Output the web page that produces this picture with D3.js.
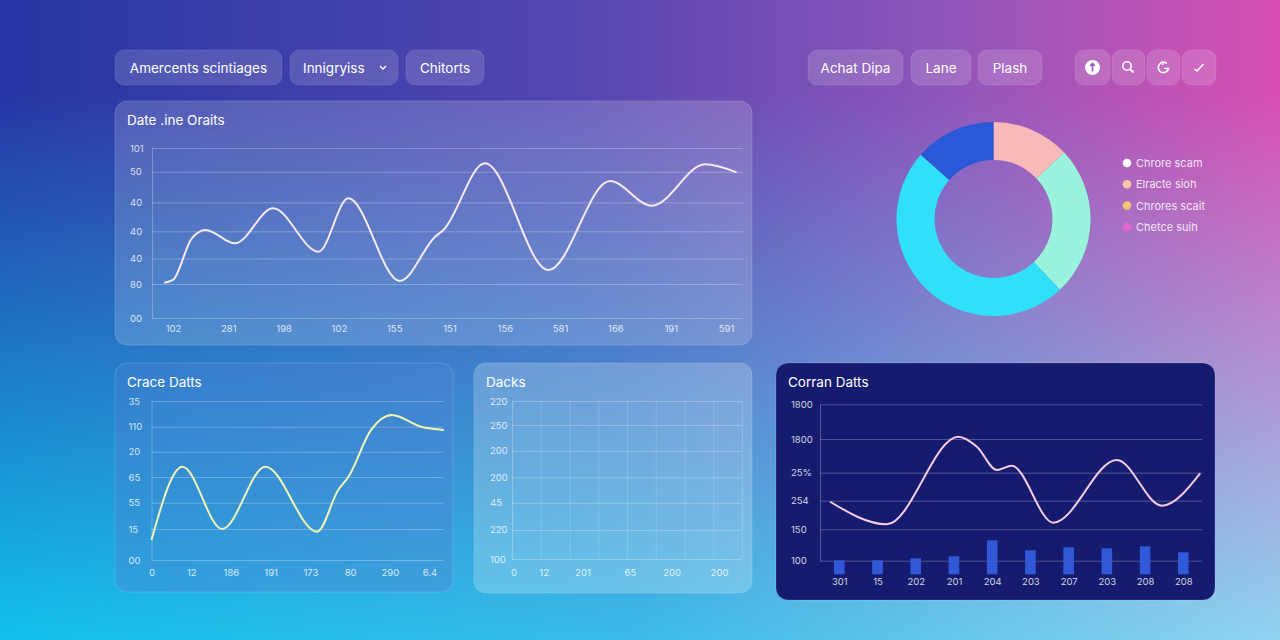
<!DOCTYPE html>
<html>
<head>
<meta charset="utf-8">
<script src="https://cdn.jsdelivr.net/npm/d3@7"></script>
<style>
html, body { margin: 0; padding: 0; overflow: hidden; }
svg { display: block; font-family: "Inter", "Noto Sans", sans-serif; }
</style>
</head>
<body>
<svg id="chart" width="1280" height="640"></svg>
<script>
// ---- data ----
var leftTabs = ["Amercents scintiages", "Innigryiss", "Chitorts"];
var rightTabs = ["Achat Dipa", "Lane", "Plash"];

var mainTitle = "Date .ine Oraits";
var mainXLabels = ["102", "281", "198", "102", "155", "151", "156", "581", "166", "191", "591"];
var mainYTicks = [0, 20, 35, 51, 68, 86, 100];
var mainYLabels = ["00", "80", "40", "40", "40", "50", "101"];
var mainX = [-0.16, 0, 0.34, 0.59, 1.12, 1.81, 2.63, 3.17, 4.1, 4.74, 4.89, 5.64, 6.79, 7.9, 8.66, 9.62, 10.19];
var mainY = [20.8, 22.4, 46.9, 51.8, 43.9, 64.5, 39, 70.4, 21.8, 47.8, 51.8, 91, 28.2, 80.6, 66, 90.4, 85.7];

var donutValues = [13, 25, 48.5, 13.5];
var legendLabels = ["Chrore scam", "Elracte sioh", "Chrores scait", "Chetce suih"];

var craceTitle = "Crace Datts";
var craceXLabels = ["0", "12", "186", "191", "173", "80", "290", "6.4"];
var craceYTicks = [0, 19.5, 36, 52.2, 68.1, 83.8, 100];
var craceYLabels = ["00", "15", "55", "65", "20", "110", "35"];
var craceX = [0, 0.78, 1.78, 2.87, 4.17, 4.7, 4.96, 5.53, 6.05, 6.79, 7.36];
var craceY = [12.6, 58.7, 19.5, 58.7, 17.8, 44, 52.4, 81.8, 91.2, 83.8, 81.8];

var dacksTitle = "Dacks";
var dacksXTicks = [0.05, 1.1, 2.45, 4.1, 5.55, 7.2];
var dacksXLabels = ["0", "12", "201", "65", "200", "200"];
var dacksYTicks = [0, 18.4, 35.6, 51.7, 68.5, 84.8, 100];
var dacksYLabels = ["100", "220", "45", "200", "200", "250", "220"];

var corranTitle = "Corran Datts";
var corranXLabels = ["301", "15", "202", "201", "204", "203", "207", "203", "208", "208"];
var corranBars = [14, 14, 16, 18, 34, 24, 27, 26, 28, 22];
var corranYTicks = [0, 20.1, 38.4, 56.3, 77.8, 100];
var corranYLabels = ["100", "150", "254", "25%", "1800", "1800"];
var corranX = [-0.24, 1.24, 3.11, 3.6, 4.12, 4.51, 5.6, 7.26, 8.44, 9.44];
var corranY = [37.7, 23.3, 79.3, 72.9, 58, 60.7, 24.3, 64.4, 35.2, 55.9];

// ---- styles ----
var donutColors = ["#f8b9b9", "#9af3dc", "#30e0f8", "#2a58d6"];
var legendColors = ["#ffffff", "#f2c9a6", "#efc170", "#e064d2"];
var gridColor = "rgba(255,255,255,0.26)";
var labelColor = "rgba(255,255,255,0.82)";

var svg = d3.select("#chart");
var defs = svg.append("defs");

// background: top row colours fade into bottom row colours
var gBottom = defs.append("linearGradient").attr("id", "bgBottom");
[["0", "#12c2ec"], ["0.5", "#3cbce8"], ["1", "#90d4f0"]].forEach(function(s) {
  gBottom.append("stop").attr("offset", s[0]).attr("stop-color", s[1]);
});
var gTop = defs.append("linearGradient").attr("id", "bgTop");
[["0", "#2636a4"], ["0.45", "#5446b0"], ["0.75", "#9256ba"], ["1", "#d84fb2"]].forEach(function(s) {
  gTop.append("stop").attr("offset", s[0]).attr("stop-color", s[1]);
});
var gFade = defs.append("linearGradient").attr("id", "fade")
    .attr("x1", 0).attr("y1", 0).attr("x2", 0).attr("y2", 1);
gFade.append("stop").attr("offset", "0").attr("stop-color", "#fff");
gFade.append("stop").attr("offset", "0.15").attr("stop-color", "#fff");
gFade.append("stop").attr("offset", "1").attr("stop-color", "#000");
defs.append("mask").attr("id", "fadeMask")
  .append("rect").attr("width", 1280).attr("height", 640).attr("fill", "url(#fade)");

svg.append("rect").attr("width", 1280).attr("height", 640).attr("fill", "url(#bgBottom)");
svg.append("rect").attr("width", 1280).attr("height", 640).attr("fill", "url(#bgTop)")
    .attr("mask", "url(#fadeMask)");

// ---- top buttons ----
function button(x, w, label, opts) {
  opts = opts || {};
  var g = svg.append("g").attr("transform", "translate(" + x + ",50)");
  g.append("rect").attr("width", w).attr("height", 35).attr("rx", 9)
    .attr("fill", "rgba(255,255,255,0.15)")
    .attr("stroke", "rgba(255,255,255,0.1)");
  if (label) {
    g.append("text").attr("x", opts.left ? opts.left : w / 2).attr("y", 22.5)
      .attr("text-anchor", opts.left ? "start" : "middle")
      .attr("fill", "#fff").attr("font-size", 13.5).text(label);
  }
  return g;
}
button(115, 167, leftTabs[0]);
var dd = button(290, 108, leftTabs[1], {left: 13});
dd.append("path").attr("d", "M90,16 L93,19 L96,16").attr("fill", "none")
  .attr("stroke", "#fff").attr("stroke-width", 1.4);
button(406, 78, leftTabs[2]);
button(808, 95, rightTabs[0]);
button(911, 60, rightTabs[1]);
button(978, 64, rightTabs[2]);

var i1 = button(1075, 35);
i1.append("circle").attr("cx", 17.5).attr("cy", 17.5).attr("r", 7.5).attr("fill", "#fff");
i1.append("path").attr("d", "M17.5,21.5 L17.5,14 M15.2,16 L17.5,13.6 L19.8,16")
  .attr("fill", "none").attr("stroke", "#9a5cbc").attr("stroke-width", 1.7);
var i2 = button(1112, 33);
i2.append("circle").attr("cx", 15).attr("cy", 16).attr("r", 4.2).attr("fill", "none")
  .attr("stroke", "#fff").attr("stroke-width", 1.6);
i2.append("path").attr("d", "M18,19 L21.5,22.5").attr("stroke", "#fff").attr("stroke-width", 1.8);
var i3 = button(1147, 33);
i3.append("path").attr("d", "M20,13.5 A5.2,5.2 0 1,0 21.6,18.5 L17,18.5")
  .attr("fill", "none").attr("stroke", "#fff").attr("stroke-width", 1.6);
i3.append("path").attr("d", "M14,12 L16.5,12.5 L15.5,15").attr("fill", "none")
  .attr("stroke", "#fff").attr("stroke-width", 1.4);
var i4 = button(1182, 34);
i4.append("path").attr("d", "M12.5,19 L15,21 L21.5,14").attr("fill", "none")
  .attr("stroke", "#fff").attr("stroke-width", 1.6);

// ---- panels ----
function panel(x, y, w, h, fill, title) {
  svg.append("rect").attr("x", x).attr("y", y).attr("width", w).attr("height", h)
    .attr("rx", 12).attr("fill", fill).attr("stroke", "rgba(255,255,255,0.16)");
  svg.append("text").attr("x", x + 12).attr("y", y + 24).attr("fill", "#fff")
    .attr("font-size", 13.5).text(title);
}
panel(115, 101, 637, 244, "rgba(255,255,255,0.17)", mainTitle);
panel(115, 363, 338, 229, "rgba(80,130,210,0.38)", craceTitle);
panel(474, 363, 278, 230, "rgba(255,255,255,0.22)", dacksTitle);
panel(776, 363, 439, 237, "#151b6f", corranTitle);

// y axis with horizontal grid lines
function yGrid(y, axisX, gridW, ticks, labels, labelX) {
  var g = svg.append("g").attr("transform", "translate(" + axisX + ",0)")
    .call(d3.axisLeft(y).tickValues(ticks).tickSizeInner(-gridW).tickSizeOuter(0)
      .tickFormat(function(d, i) { return labels[i]; }));
  g.select(".domain").attr("stroke", gridColor);
  g.selectAll(".tick line").attr("stroke", gridColor);
  g.selectAll(".tick text").attr("x", labelX).attr("text-anchor", "start")
    .attr("fill", labelColor).attr("font-size", 9.5).attr("font-family", "Inter, sans-serif");
  return g;
}
function xLabels(x, axisY, ticks, labels, pad) {
  var g = svg.append("g").attr("transform", "translate(0," + axisY + ")")
    .call(d3.axisBottom(x).tickValues(ticks).tickSize(0).tickPadding(pad)
      .tickFormat(function(d, i) { return labels[i]; }));
  g.select(".domain").remove();
  g.selectAll(".tick text").attr("fill", labelColor).attr("font-size", 9.5)
    .attr("font-family", "Inter, sans-serif");
  return g;
}

// ---- main line chart ----
var mx = d3.scaleLinear().domain([0, 10]).range([173, 726]);
var my = d3.scaleLinear().domain([0, 100]).range([318, 148]);
yGrid(my, 152, 591, mainYTicks, mainYLabels, -22);
xLabels(mx, 318, d3.range(mainXLabels.length), mainXLabels, 7);
svg.append("path").datum(d3.zip(mainX, mainY))
  .attr("fill", "none").attr("stroke", "#f7e9f4").attr("stroke-width", 2)
  .attr("d", d3.line().x(function(d) { return mx(d[0]); }).y(function(d) { return my(d[1]); })
    .curve(d3.curveMonotoneX));

// ---- donut ----
var pie = d3.pie().sort(null).value(function(d) { return d; });
var arc = d3.arc().innerRadius(59).outerRadius(97);
svg.append("g").attr("transform", "translate(993.5,219)")
  .selectAll("path").data(pie(donutValues)).enter().append("path")
  .attr("d", arc).attr("fill", function(d, i) { return donutColors[i]; });

var legend = svg.append("g").attr("transform", "translate(1127,163)")
  .selectAll("g").data(legendLabels).enter().append("g")
  .attr("transform", function(d, i) { return "translate(0," + (i * 21.3) + ")"; });
legend.append("circle").attr("r", 4.3).attr("fill", function(d, i) { return legendColors[i]; });
legend.append("text").attr("x", 9).attr("y", 4).attr("fill", "rgba(255,255,255,0.85)")
  .attr("font-size", 11).text(function(d) { return d; });

// ---- Crace Datts ----
var cx = d3.scaleLinear().domain([0, 7]).range([151.5, 429.5]);
var cy = d3.scaleLinear().domain([0, 100]).range([560, 401]);
yGrid(cy, 151.5, 292, craceYTicks, craceYLabels, -23);
xLabels(cx, 560, d3.range(craceXLabels.length), craceXLabels, 9);
svg.append("path").datum(d3.zip(craceX, craceY))
  .attr("fill", "none").attr("stroke", "#eef6b2").attr("stroke-width", 2)
  .attr("d", d3.line().x(function(d) { return cx(d[0]); }).y(function(d) { return cy(d[1]); })
    .curve(d3.curveMonotoneX));

// ---- Dacks (empty grid) ----
var dx = d3.scaleLinear().domain([0, 8]).range([512, 742]);
var dy = d3.scaleLinear().domain([0, 100]).range([559, 401]);
var vg = svg.append("g").attr("transform", "translate(0,559)")
  .call(d3.axisBottom(dx).tickValues(d3.range(1, 9)).tickSize(-158).tickFormat(""));
vg.select(".domain").remove();
vg.selectAll(".tick line").attr("stroke", "rgba(255,255,255,0.16)");
yGrid(dy, 512, 230, dacksYTicks, dacksYLabels, -22);
xLabels(dx, 559, dacksXTicks, dacksXLabels, 10);

// ---- Corran Datts ----
var rx = d3.scaleLinear().domain([0, 9]).range([839.3, 1183.3]);
var ry = d3.scaleLinear().domain([0, 100]).range([560.7, 404.3]);
var rb = d3.scaleLinear().domain([0, 50]).range([574.3, 524.3]);
yGrid(ry, 820, 382, corranYTicks, corranYLabels, -29);
svg.append("g").selectAll("rect").data(corranBars).enter().append("rect")
  .attr("x", function(d, i) { return rx(i) - 5.3; })
  .attr("y", function(d) { return rb(d); })
  .attr("width", 10.6)
  .attr("height", function(d) { return rb(0) - rb(d); })
  .attr("fill", "#3158d6");
xLabels(rx, 574.3, d3.range(corranXLabels.length), corranXLabels, 4);
svg.append("path").datum(d3.zip(corranX, corranY))
  .attr("fill", "none").attr("stroke", "#f5cbe6").attr("stroke-width", 2)
  .attr("d", d3.line().x(function(d) { return rx(d[0]); }).y(function(d) { return ry(d[1]); })
    .curve(d3.curveMonotoneX));
</script>
</body>
</html>
